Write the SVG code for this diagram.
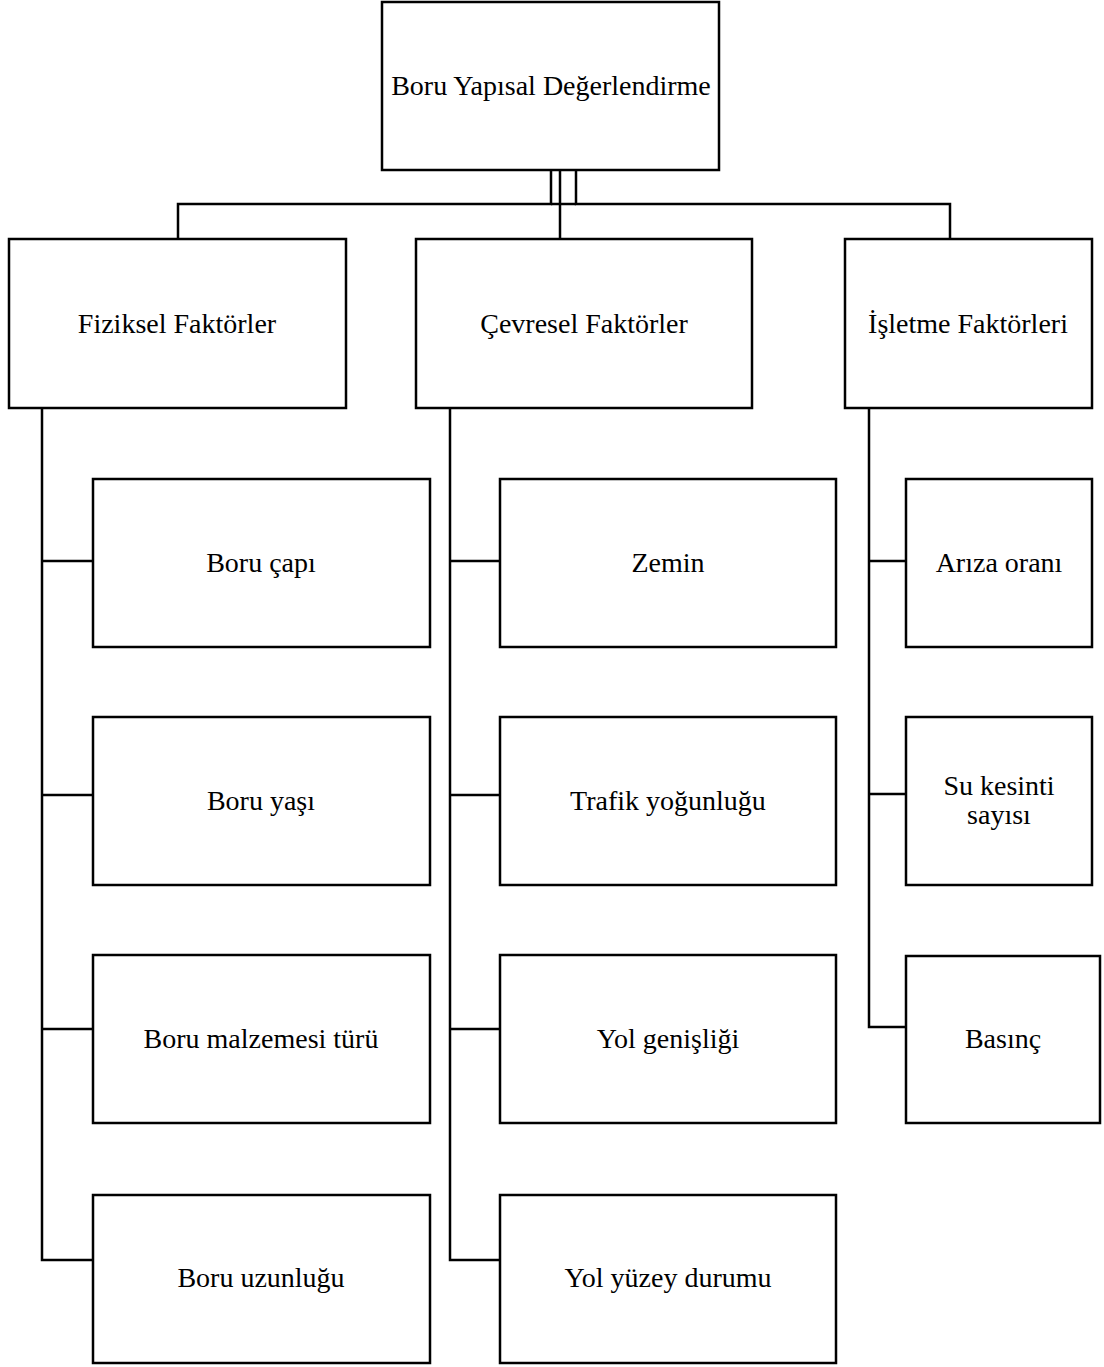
<svg xmlns="http://www.w3.org/2000/svg" width="1104" height="1367" viewBox="0 0 1104 1367">
<style>
.box{fill:#fff;stroke:#000;stroke-width:2.5}
.lbl{font-family:"Liberation Serif","Times New Roman",serif;font-size:28px;fill:#000;text-anchor:middle}
.conn{fill:none;stroke:#000;stroke-width:2.5}
</style>
<rect width="1104" height="1367" fill="#fff"/>
<g id="connectors">
<path class="conn" d="M551 170V204H178V239"/>
<path class="conn" d="M560 170V239"/>
<path class="conn" d="M576 170V204H950V239"/>
<path class="conn" d="M551 204H576"/>
<path class="conn" d="M42 408V1260H93M42 561H93M42 795H93M42 1029H93"/>
<path class="conn" d="M450 408V1260H500M450 561H500M450 795H500M450 1029H500"/>
<path class="conn" d="M869 408V1027H906M869 561H906M869 794H906"/>
</g>
<g id="root"><rect class="box" x="382" y="2" width="337" height="168"/><text class="lbl" x="551" y="95">Boru Yapısal Değerlendirme</text></g>
<g id="fiziksel"><rect class="box" x="9" y="239" width="337" height="169"/><text class="lbl" x="177" y="333">Fiziksel Faktörler</text></g>
<g id="cevresel"><rect class="box" x="416" y="239" width="336" height="169"/><text class="lbl" x="584" y="333">Çevresel Faktörler</text></g>
<g id="isletme"><rect class="box" x="845" y="239" width="247" height="169"/><text class="lbl" x="968" y="333">İşletme Faktörleri</text></g>
<g id="boru-capi"><rect class="box" x="93" y="479" width="337" height="168"/><text class="lbl" x="261" y="572">Boru çapı</text></g>
<g id="boru-yasi"><rect class="box" x="93" y="717" width="337" height="168"/><text class="lbl" x="261" y="810">Boru yaşı</text></g>
<g id="boru-malzemesi"><rect class="box" x="93" y="955" width="337" height="168"/><text class="lbl" x="261" y="1048">Boru malzemesi türü</text></g>
<g id="boru-uzunlugu"><rect class="box" x="93" y="1195" width="337" height="168"/><text class="lbl" x="261" y="1287">Boru uzunluğu</text></g>
<g id="zemin"><rect class="box" x="500" y="479" width="336" height="168"/><text class="lbl" x="668" y="572">Zemin</text></g>
<g id="trafik"><rect class="box" x="500" y="717" width="336" height="168"/><text class="lbl" x="668" y="810">Trafik yoğunluğu</text></g>
<g id="yol-genisligi"><rect class="box" x="500" y="955" width="336" height="168"/><text class="lbl" x="668" y="1048">Yol genişliği</text></g>
<g id="yol-yuzey"><rect class="box" x="500" y="1195" width="336" height="168"/><text class="lbl" x="668" y="1287">Yol yüzey durumu</text></g>
<g id="ariza"><rect class="box" x="906" y="479" width="186" height="168"/><text class="lbl" x="999" y="572">Arıza oranı</text></g>
<g id="su-kesinti"><rect class="box" x="906" y="717" width="186" height="168"/><text class="lbl" x="999" y="795">Su kesinti</text><text class="lbl" x="999" y="824">sayısı</text></g>
<g id="basinc"><rect class="box" x="906" y="956" width="194" height="167"/><text class="lbl" x="1003" y="1048">Basınç</text></g>
</svg>
